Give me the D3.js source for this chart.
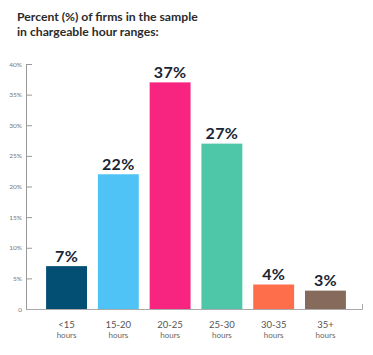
<!DOCTYPE html>
<html><head><meta charset="utf-8">
<script src="https://cdn.jsdelivr.net/npm/d3@7"></script>
<style>body{margin:0;background:#fff}svg{display:block}</style>
</head><body><svg id="c" width="373" height="355"></svg>
<script>
const categories = ["<15", "15-20", "20-25", "25-30", "30-35", "35+"];
const subLabels = ["hours", "hours", "hours", "hours", "hours", "hours"];
const values = [7, 22, 37, 27, 4, 3];
const colors = ["#034f73", "#4fc3f5", "#f72580", "#4dc7a8", "#ff6e4a", "#866b5c"];
const yTicks = [0, 5, 10, 15, 20, 25, 30, 35, 40];
const titleLines = ["Percent (%) of firms in the sample", "in chargeable hour ranges:"];

const svg = d3.select("#c");
const font = "Lato, 'Open Sans', sans-serif";
const x = d3.scaleBand().domain(categories).range([36, 356]).paddingInner(0.21).paddingOuter(0.195);
const y = d3.scaleLinear().domain([0, 40]).range([309, 64]);

svg.append("g").selectAll("text").data(titleLines).join("text")
  .attr("x", 17).attr("y", (d, i) => 21 + i * 15)
  .attr("font-family", font).attr("font-weight", 700).attr("font-size", 12.2)
  .attr("fill", "#2b2b2b").text(d => d);

// y axis
const ya = svg.append("g").attr("transform", "translate(26,0)")
  .call(d3.axisRight(y).tickValues(yTicks).tickSize(6).tickSizeOuter(0).tickFormat(d => d === 0 ? "0" : d + "%"));
ya.select(".domain").attr("stroke", "#999");
ya.selectAll(".tick line").attr("stroke", "#999");
ya.selectAll(".tick text").attr("x", -4).attr("text-anchor", "end")
  .attr("font-family", font).attr("font-size", 6.5).attr("fill", "#777");

// bars
svg.append("g").selectAll("rect").data(values).join("rect")
  .attr("x", (d, i) => x(categories[i])).attr("width", x.bandwidth())
  .attr("y", d => y(d)).attr("height", d => y(0) - y(d))
  .attr("fill", (d, i) => colors[i]);

// x axis
const xa = svg.append("g").attr("transform", "translate(0,309)");
xa.append("path").attr("d", d3.line()([[26, 0.5], [362.5, 0.5], [362.5, -5]]))
  .attr("fill", "none").attr("stroke", "#aaa");
xa.selectAll("text.c").data(categories).join("text").attr("class", "c")
  .attr("x", d => x(d) + x.bandwidth() / 2).attr("y", 19)
  .attr("text-anchor", "middle").attr("font-family", font).attr("font-size", 9.5)
  .attr("fill", "#555").text(d => d);
xa.selectAll("text.s").data(subLabels).join("text").attr("class", "s")
  .attr("x", (d, i) => x(categories[i]) + x.bandwidth() / 2).attr("y", 29)
  .attr("text-anchor", "middle").attr("font-family", font).attr("font-size", 8)
  .attr("fill", "#666").text(d => d);

// value labels
svg.append("g").selectAll("text").data(values).join("text")
  .attr("x", (d, i) => x(categories[i]) + x.bandwidth() / 2).attr("y", d => y(d) - 4.5)
  .attr("text-anchor", "middle").attr("font-family", font).attr("font-weight", 700)
  .attr("font-size", 16).attr("letter-spacing", 0.3).attr("fill", "#1a2533").text(d => d + "%");
</script></body></html>
